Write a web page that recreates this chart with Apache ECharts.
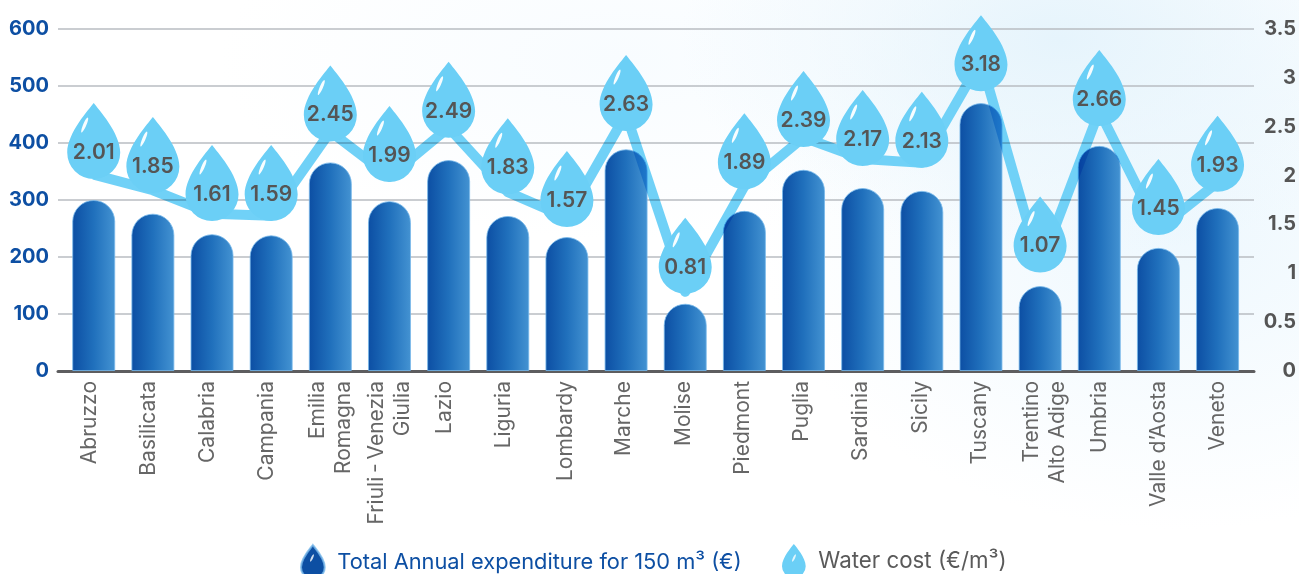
<!DOCTYPE html>
<html><head><meta charset="utf-8">
<style>
html,body{margin:0;padding:0;width:1299px;height:574px;overflow:hidden;
background:
 radial-gradient(ellipse 380px 220px at 1060px 40px,#e6f4fc 0%,rgba(230,244,252,0) 100%),
 radial-gradient(ellipse 420px 300px at 1180px 230px,#eef8fe 0%,rgba(238,248,254,0) 100%),
 radial-gradient(ellipse 400px 180px at 620px 60px,#f8fcff 0%,rgba(248,252,255,0) 100%),
 #ffffff;}
#c{width:1299px;height:574px}
</style>
<script src="https://cdn.jsdelivr.net/npm/echarts@6/dist/echarts.min.js"></script>
</head><body><div id="c"></div>
<script>
const categories=['Abruzzo','Basilicata','Calabria','Campania','Emilia\nRomagna','Friuli\u2009-\u2009Venezia\nGiulia','Lazio','Liguria','Lombardy','Marche','Molise','Piedmont','Puglia','Sardinia','Sicily','Tuscany','Trentino\nAlto Adige','Umbria','Valle d’Aosta','Veneto'];
const expenditure=[300,276,240,238,366,298,370,272,235,389,118,281,353,321,316,470,149,395,216,286];
const waterCost=[2.01,1.85,1.61,1.59,2.45,1.99,2.49,1.83,1.57,2.63,0.81,1.89,2.39,2.17,2.13,3.18,1.07,2.66,1.45,1.93];
const leftTicksMax=600, rightTicksMax=3.5;
const nameBar='Total Annual expenditure for 150 m³ (€)';
const nameLine='Water cost (€/m³)';
// layout only: how far each drop's rounded end hangs below its data point
const dropDrop=[4.4,2.8,7.3,5.4,10,5.4,10,2,9.4,17,2,3,9.5,7,5,31,6,15,5.7,9.3];
// layout only: sideways nudge class of each category label (left px; negative = right)
const labelNudge=[4,4,4,4,0,0,4,4,1,2,2,2,2,2,1,1,-5,0,0,0];
const FONT='Inter';
const DROP='path://M26.5 0C31 6 53 30 53 49.5A26.5 26.5 0 1 1 0 49.5C0 30 22 6 26.5 0Z';
const GLINT='path://M6 0C7 0 6.5 4 4.5 8.5C3 12 1 15.5 0.4 15C-0.3 14.5 1 9 2.5 5.5C3.8 2.5 5.3 0 6 0Z';
const labelStyle={fontFamily:FONT,fontSize:21,lineHeight:26,color:'#666666'};
const rich={};
[1,2,4].forEach(n=>{rich['l'+n]={...labelStyle,padding:[0,0,2*n,0]};});
rich.r5={...labelStyle,padding:[10,0,0,0]};
rich.p={...labelStyle};
const chart=echarts.init(document.getElementById('c'),null,{renderer:'canvas'});
chart.setOption({
 animation:false,
 backgroundColor:'transparent',
 legend:[
  {left:300,top:544,padding:0,itemWidth:25,itemHeight:34,
   data:[{name:nameBar,icon:DROP,itemStyle:{color:'#0d4fa3'},textStyle:{color:'#0d4fa3'}}],
   textStyle:{fontFamily:FONT,fontSize:21.8,padding:[2,0,0,7]}},
  {left:782,top:544,padding:0,itemWidth:25,itemHeight:34,
   data:[{name:nameLine,icon:DROP,itemStyle:{color:'#6bcff6'},textStyle:{color:'#5a5a5a'}}],
   textStyle:{fontFamily:FONT,fontSize:22.3,padding:[2,0,0,7]}}
 ],
 graphic:[312,794].map(x=>({type:'ellipse',x:x,y:558,rotation:-0.45,z:100,silent:true,
   shape:{cx:0,cy:0,rx:1,ry:4},style:{fill:'#ffffff',opacity:0.8}})),
 grid:[
  {left:58,right:45,top:29,bottom:203},
  {left:64.15,right:51.85,top:29,bottom:203}
 ],
 xAxis:[
  {type:'category',gridIndex:0,data:[''],axisLine:{lineStyle:{color:'#5d5d5f',width:3}},axisTick:{show:false},axisLabel:{show:false}},
  {type:'category',gridIndex:1,data:categories,axisLine:{show:false},axisTick:{show:false},
   axisLabel:{interval:0,rotate:90,align:'right',verticalAlign:'middle',margin:10,...labelStyle,rich:rich,
    formatter:(v,i)=>{
      const n=labelNudge[i];
      if(n>0) return '{l'+n+'|'+v+'}';
      if(n<0) return v.split('\n').map(s=>'{r5|'+s+'}').join('\n');
      return v.split('\n').map(s=>'{p|'+s+'}').join('\n');
    }}}
 ],
 yAxis:[
  {type:'value',gridIndex:0,min:0,max:leftTicksMax,interval:100,axisLine:{show:false},axisTick:{show:false},
   splitLine:{lineStyle:{color:'#b9bcc2',width:1.5}},
   axisLabel:{margin:9,fontFamily:FONT,fontWeight:700,fontSize:20,padding:[6,0,0,0],color:'#0d4fa3'}},
  {type:'value',gridIndex:0,position:'right',min:0,max:rightTicksMax,interval:0.5,axisLine:{show:false},axisTick:{show:false},splitLine:{show:false},
   axisLabel:{margin:42,align:'right',fontFamily:FONT,fontWeight:700,fontSize:20,padding:[6,0,0,0],color:'#555555',formatter:v=>String(v)}},
  {type:'value',gridIndex:1,min:0,max:leftTicksMax,interval:100,show:false},
  {type:'value',gridIndex:1,min:0,max:rightTicksMax,interval:0.5,show:false}
 ],
 series:[
  {type:'bar',name:nameBar,xAxisIndex:1,yAxisIndex:2,data:expenditure,barWidth:43,z:2,
   itemStyle:{borderRadius:[21.5,21.5,0,0],borderColor:'rgba(120,185,235,0.8)',borderWidth:1,
    color:new echarts.graphic.LinearGradient(0,0,1,0,[{offset:0,color:'#0c4ea3'},{offset:0.5,color:'#2070bc'},{offset:1,color:'#4493d2'}])}},
  {type:'line',name:nameLine,xAxisIndex:1,yAxisIndex:3,data:waterCost,z:3,symbol:'none',blendMode:'multiply',
   lineStyle:{color:'#6bcff6',width:10,join:'round',opacity:0.97}},
  {type:'scatter',name:nameLine,xAxisIndex:1,yAxisIndex:3,z:4,symbol:DROP,symbolSize:[53,76],
   data:waterCost.map((v,i)=>({value:v,symbolOffset:[0,dropDrop[i]-38]})),
   itemStyle:{color:'#6bcff6',opacity:1},
   label:{show:true,position:'inside',offset:[0,11.5],fontFamily:FONT,fontWeight:600,fontSize:21,color:'#555555',formatter:p=>Number(p.value).toFixed(2)}},
  {type:'scatter',name:'glint',xAxisIndex:1,yAxisIndex:3,z:5,symbol:GLINT,symbolSize:[7,15],silent:true,
   data:waterCost.map((v,i)=>({value:v,symbolOffset:[-9,dropDrop[i]-54]})),
   itemStyle:{color:'#ffffff',opacity:0.95}}
 ]
});
</script></body></html>
